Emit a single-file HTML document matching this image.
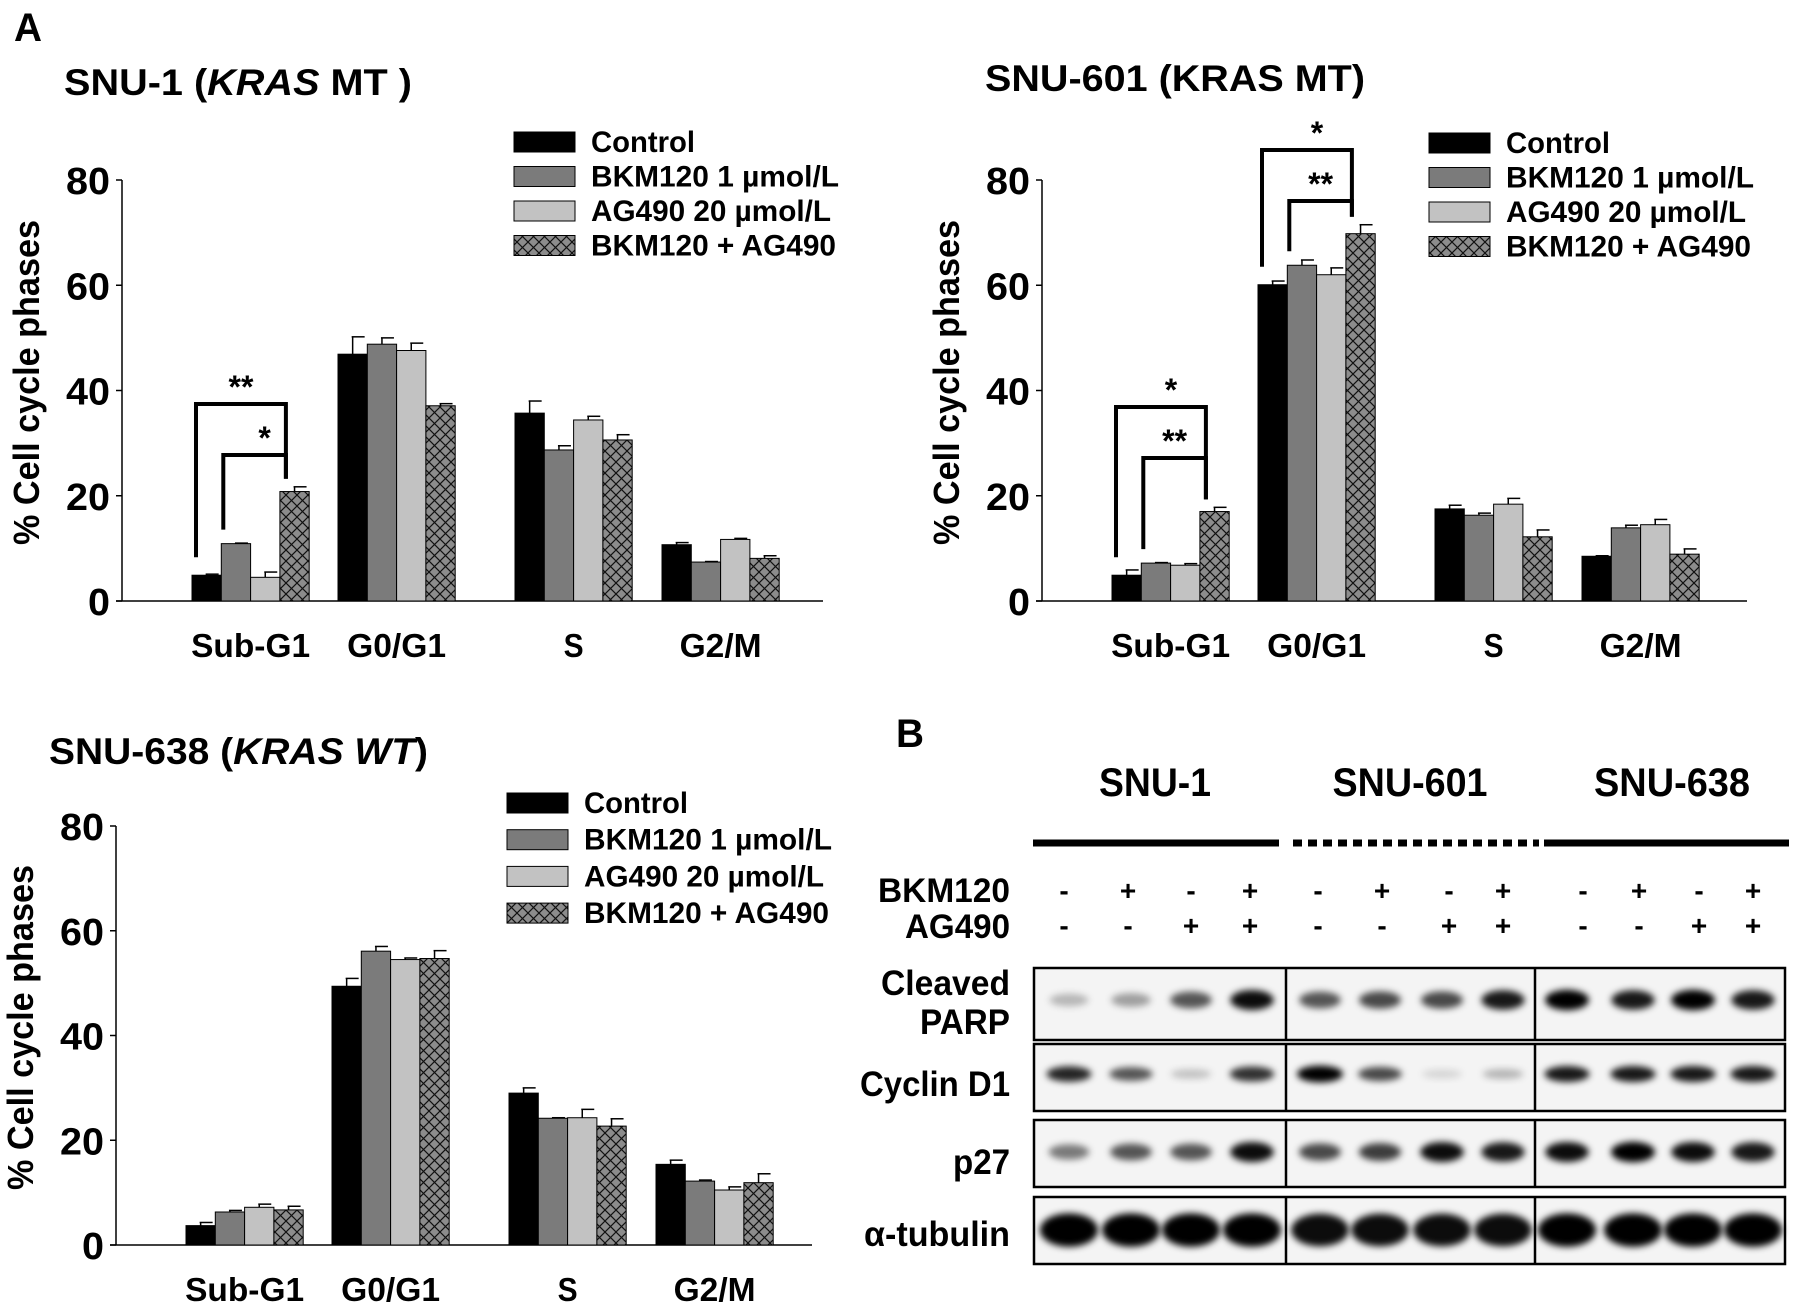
<!DOCTYPE html>
<html><head><meta charset="utf-8"><style>
html,body{margin:0;padding:0;background:#fff;overflow:hidden;}
svg{display:block;font-family:"Liberation Sans",Arial,sans-serif;font-weight:bold;}
</style></head><body>
<svg id="fig" width="1795" height="1313" viewBox="0 0 1795 1313" xmlns="http://www.w3.org/2000/svg">
<defs>
<pattern id="hatch" patternUnits="userSpaceOnUse" width="11" height="11">
<rect width="11" height="11" fill="#8c8c8c"/>
<path d="M0,0 L11,11 M11,0 L0,11" stroke="#111" stroke-width="1.2"/>
</pattern>
<filter id="blur" x="-50%" y="-50%" width="200%" height="200%"><feGaussianBlur stdDeviation="3.5"/></filter>
</defs>
<text x="14" y="41" font-size="40" textLength="28" lengthAdjust="spacingAndGlyphs">A</text>
<g id="charts"></g>
<g id="blot"></g>
</svg>
<script>
const categories = ["Sub-G1","G0/G1","S","G2/M"];
const seriesNames = ["Control","BKM120 1 µmol/L","AG490 20 µmol/L","BKM120 + AG490"];
const yTicks = [0,20,40,60,80];
// rows = series (Control, BKM120, AG490, combo); columns = categories
const snu1Means = [[4.9,46.9,35.7,10.7],[10.9,48.8,28.7,7.4],[4.5,47.6,34.4,11.7],[20.8,37.1,30.6,8.1]];
const snu1Errors = [[0.2,3.3,2.3,0.4],[0.1,1.2,0.8,0.1],[1.0,1.4,0.7,0.2],[0.9,0.4,1.0,0.5]];
const snu601Means = [[4.9,60.1,17.5,8.5],[7.2,63.8,16.3,13.9],[6.8,62.0,18.4,14.5],[17.0,69.8,12.2,8.9]];
const snu601Errors = [[1.0,0.7,0.7,0.1],[0.1,1.0,0.4,0.5],[0.3,1.3,1.1,1.0],[0.8,1.7,1.3,1.0]];
const snu638Means = [[3.7,49.4,29.0,15.4],[6.3,56.1,24.2,12.2],[7.2,54.5,24.3,10.5],[6.7,54.7,22.7,11.9]];
const snu638Errors = [[0.6,1.5,1.0,0.8],[0.3,0.9,0.1,0.2],[0.6,0.3,1.6,0.6],[0.7,1.5,1.4,1.7]];
const blotCells = ["SNU-1","SNU-601","SNU-638"];
const bkmSigns = ["-","+","-","+","-","+","-","+","-","+","-","+"];
const agSigns = ["-","-","+","+","-","-","+","+","-","-","+","+"];
const parpLevels = [0.25,0.35,0.65,0.95,0.65,0.7,0.7,0.9,1,0.9,1,0.9];
const cyclinLevels = [0.85,0.65,0.2,0.8,1,0.7,0.12,0.25,0.9,0.9,0.9,0.9];
const p27Levels = [0.5,0.65,0.65,0.95,0.7,0.75,0.95,0.9,0.95,1,0.95,0.9];
const tubulinLevels = [1,1,1,1,0.95,0.95,0.95,0.95,1,1,1,1];

const NS="http://www.w3.org/2000/svg";
function mk(tag,attrs,parent,text){const e=document.createElementNS(NS,tag);for(const k in attrs)e.setAttribute(k,attrs[k]);if(text!==undefined)e.textContent=text;parent.appendChild(e);return e;}
const fills=["#000","#7b7b7b","#c2c2c2","url(#hatch)"];
const groupOffsets=[70,216,393,540];
const barW=29.3;
const legendWidths=[104,248,240,245];
const xLabelWidths=[119,99,20,82];

const charts=[
 {id:"snu1",means:snu1Means,errs:snu1Errors,ox:122,y0:601,y80:180,xEnd:823,lx:514,ly:142,ls:34.5,title:["SNU-1  (","KRAS"," MT )"],tx:64,ty:95,tw:348,
  brackets:[{c:0,a:0,b:3,h:404,s:"**"},{c:0,a:1,b:3,h:455,s:"*"}]},
 {id:"snu601",means:snu601Means,errs:snu601Errors,ox:1042,y0:601,y80:180,xEnd:1747,lx:1429,ly:143,ls:34.5,title:["SNU-601  (KRAS MT)","",""],tx:985,ty:91,tw:380,
  brackets:[{c:0,a:0,b:3,h:407,s:"*"},{c:0,a:1,b:3,h:458,s:"**"},{c:1,a:0,b:3,h:150,s:"*"},{c:1,a:1,b:3,h:201,s:"**"}]},
 {id:"snu638",means:snu638Means,errs:snu638Errors,ox:116,y0:1245,y80:826,xEnd:812,lx:507,ly:803,ls:36.7,title:["SNU-638  (","KRAS WT",")"],tx:49,ty:764,tw:379,brackets:[]}
];
const root=document.getElementById("charts");
charts.forEach(c=>{
 const g=mk("g",{},root);
 
 
 const yScale=v=>c.y0-(v/80)*(c.y0-c.y80);
 const xBar=(ci,si)=>c.ox+groupOffsets[ci]+si*barW;
 const t=mk("text",{x:c.tx,y:c.ty,"font-size":37,textLength:c.tw,lengthAdjust:"spacingAndGlyphs"},g);
 
 
 mk("tspan",{},t,c.title[0]);
 if(c.title[1])mk("tspan",{"font-style":"italic"},t,c.title[1]);
 if(c.title[2])mk("tspan",{},t,c.title[2]);
 const ya=mk("line",{x1:c.ox,y1:c.y80,x2:c.ox,y2:c.y0,stroke:"#000","stroke-width":1.5},g);
 
 
 const xa=mk("line",{x1:c.ox-6,y1:c.y0,x2:c.xEnd,y2:c.y0,stroke:"#000","stroke-width":1.5},g);
 
 
 yTicks.forEach(v=>{
  mk("line",{x1:c.ox-6,y1:yScale(v),x2:c.ox,y2:yScale(v),stroke:"#000","stroke-width":1.5},g);
  const tl=mk("text",{x:c.ox-12,y:yScale(v)+14,"font-size":38,"text-anchor":"end",textLength:v?44:22,lengthAdjust:"spacingAndGlyphs"},g,String(v));
  
  
 });
 const cy=(c.y0+c.y80)/2-8, cx=c.ox-96;
 const yt=mk("text",{x:cx,y:cy,"font-size":36,"text-anchor":"middle",transform:`rotate(-90 ${cx} ${cy})`,textLength:325,lengthAdjust:"spacingAndGlyphs",dy:13},g,"% Cell cycle phases");
 
 
 categories.forEach((cat,ci)=>{
  const xc=c.ox+groupOffsets[ci]+2*barW;
  const xl=mk("text",{x:xc,y:c.y0+56,"font-size":33,"text-anchor":"middle",textLength:xLabelWidths[ci],lengthAdjust:"spacingAndGlyphs"},g,cat);
  
  
 });
 c.means.forEach((row,si)=>{
  row.forEach((v,ci)=>{
   const x=xBar(ci,si), y=yScale(v), e=yScale(v+c.errs[si][ci]);
   const bx=x+barW/2;
   const el=mk("line",{x1:bx,y1:y,x2:bx,y2:e,stroke:"#000","stroke-width":1.5},g);
   
   
   mk("line",{x1:bx-1,y1:e,x2:bx+12,y2:e,stroke:"#000","stroke-width":1.5},g);
   const r=mk("rect",{x:x,y:y,width:barW,height:c.y0-y,fill:fills[si],stroke:"#000","stroke-width":1},g);
   
   
  });
 });
 c.brackets.forEach(b=>{
  const xa=xBar(b.c,b.a)+(b.a===0?4:2), xb=xBar(b.c,b.b)+6;
  const ya=yScale(c.means[b.a][b.c])-(b.a===0?18:14);
  const yb=yScale(c.means[b.b][b.c]+c.errs[b.b][b.c])-8;
  const p=mk("path",{d:`M${xa},${ya} V${b.h} H${xb} V${Math.min(yb,b.h+100)}`,fill:"none",stroke:"#000","stroke-width":4},g);
  
  
  const s=mk("text",{x:(xa+xb)/2+(b.s==="*"?10:0),y:b.h-6,"font-size":32,"text-anchor":"middle"},g,b.s);
  
  
 });
 seriesNames.forEach((n,si)=>{
  const yc=c.ly+si*c.ls;
  const sw=mk("rect",{x:c.lx,y:yc-10,width:61,height:20,fill:fills[si],stroke:"#000","stroke-width":1},g);
  
  
  const lt=mk("text",{x:c.lx+77,y:yc+10,"font-size":30,textLength:legendWidths[si],lengthAdjust:"spacingAndGlyphs"},g,n);
  
  
 });
});

const B=document.getElementById("blot");
mk("text",{x:896,y:747,"font-size":40,textLength:28,lengthAdjust:"spacingAndGlyphs",},B,"B");
const headerX=[1155,1410,1672], headerW=[112,155,156];
blotCells.forEach((h,i)=>{
 const t=mk("text",{x:headerX[i],y:796,"font-size":40,"text-anchor":"middle",textLength:headerW[i],lengthAdjust:"spacingAndGlyphs"},B,h);
 
 
});
mk("line",{x1:1033,y1:843,x2:1279,y2:843,stroke:"#000","stroke-width":7,},B);
mk("line",{x1:1293,y1:843,x2:1539,y2:843,stroke:"#000","stroke-width":7,"stroke-dasharray":"9 6",},B);
mk("line",{x1:1544,y1:843,x2:1789,y2:843,stroke:"#000","stroke-width":7,},B);
const signX=[1064,1128,1191,1250,1318,1382,1449,1503,1583,1639,1699,1753];
mk("text",{x:1010,y:902,"font-size":34,"text-anchor":"end",textLength:132,lengthAdjust:"spacingAndGlyphs",},B,"BKM120");
mk("text",{x:1010,y:938,"font-size":34,"text-anchor":"end",textLength:105,lengthAdjust:"spacingAndGlyphs",},B,"AG490");
bkmSigns.forEach((s,i)=>{
 const t=mk("text",{x:signX[i],y:900,"font-size":28,"text-anchor":"middle"},B,s);
 
 
});
agSigns.forEach((s,i)=>{
 const t=mk("text",{x:signX[i],y:935,"font-size":28,"text-anchor":"middle"},B,s);
 
 
});
const laneX=[1069,1131,1191,1252,1320,1380,1442,1503,1567,1633,1693,1753];
const blotRows=[
 {name:"cleaved-parp",levels:parpLevels,top:968,bot:1040,by:1000,bw:44,bh:17},
 {name:"cyclin-d1",levels:cyclinLevels,top:1044,bot:1111,by:1074,bw:46,bh:14},
 {name:"p27",levels:p27Levels,top:1120,bot:1187,by:1152,bw:44,bh:17},
 {name:"alpha-tubulin",levels:tubulinLevels,top:1197,bot:1264,by:1230,bw:58,bh:28}
];
blotRows.forEach(r=>{
 const g=mk("g",{},B);
 
 
 mk("rect",{x:1034,y:r.top,width:751,height:r.bot-r.top,fill:"#f4f4f4"},g);
 r.levels.forEach((lv,i)=>{
  const e=mk("ellipse",{cx:laneX[i],cy:r.by,rx:r.bw/2*(0.85+0.15*lv),ry:r.bh/2*(0.6+0.6*lv),fill:"#000","fill-opacity":lv,filter:"url(#blur)"},g);
  
  
 });
 mk("rect",{x:1034,y:r.top,width:751,height:r.bot-r.top,fill:"none",stroke:"#000","stroke-width":2.5},g);
 mk("line",{x1:1286,y1:r.top,x2:1286,y2:r.bot,stroke:"#000","stroke-width":2.5},g);
 mk("line",{x1:1535,y1:r.top,x2:1535,y2:r.bot,stroke:"#000","stroke-width":2.5},g);
});
const rowLabels=[["Cleaved",995,129],["PARP",1034,90],["Cyclin D1",1096,150],["p27",1174,57],["α-tubulin",1246,146]];
rowLabels.forEach(l=>{
 const t=mk("text",{x:1010,y:l[1],"font-size":35,"text-anchor":"end",textLength:l[2],lengthAdjust:"spacingAndGlyphs"},B,l[0]);
 
 
});
</script>
</body></html>
